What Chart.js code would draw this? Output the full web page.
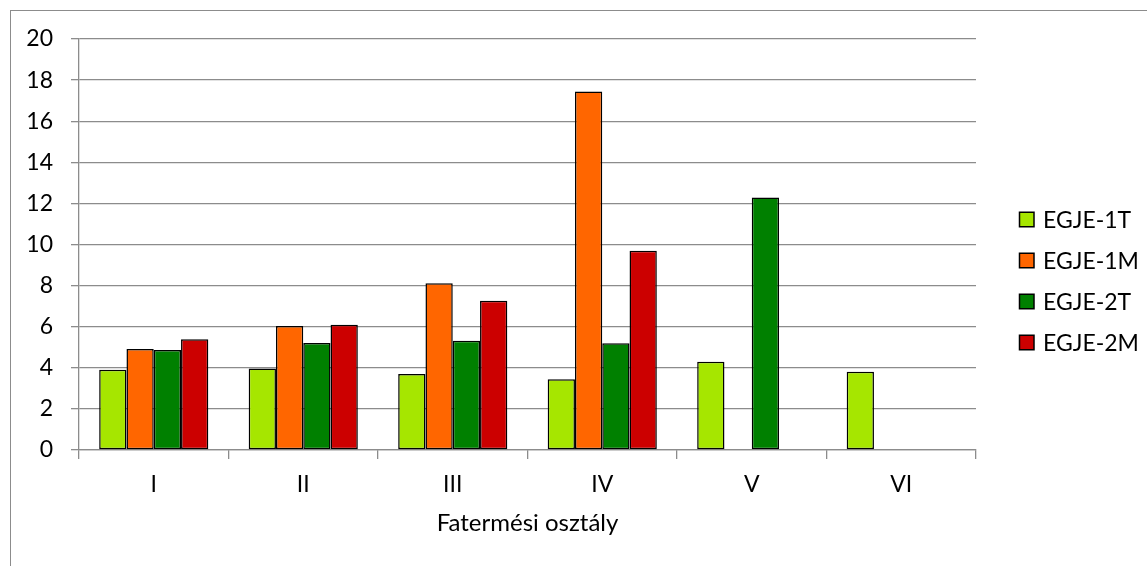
<!DOCTYPE html>
<html>
<head>
<meta charset="utf-8">
<script src="https://cdn.jsdelivr.net/npm/chart.js@4.4.1/dist/chart.umd.min.js"></script>
<style>
  html, body { margin: 0; padding: 0; background: #fff; overflow: hidden; }
  #wrap { position: relative; width: 1147px; height: 566px; }
  #frame { position: absolute; left: 10px; top: 10px; width: 1300px; height: 700px;
           border: 1.5px solid #8c8c8c; box-sizing: border-box; }
  #c { position: absolute; left: 0; top: 0; }
</style>
</head>
<body>
<div id="wrap">
  <div id="frame"></div>
  <canvas id="c" width="1147" height="566"></canvas>
</div>
<script>
// Categories (yield classes) and series values
const categories = ['I', 'II', 'III', 'IV', 'V', 'VI'];
const seriesNames = ['EGJE-1T', 'EGJE-1M', 'EGJE-2T', 'EGJE-2M'];
const egje1T = [3.90, 3.96, 3.70, 3.44, 4.29, 3.81];
const egje1M = [4.92, 6.04, 8.12, 17.45, null, null];
const egje2T = [4.87, 5.21, 5.32, 5.20, 12.29, null];
const egje2M = [5.39, 6.09, 7.26, 9.69, null, null];
const yTicks = [0, 2, 4, 6, 8, 10, 12, 14, 16, 18, 20];
const axisTitle = 'Fatermési osztály';

const colors = ['#a6e600', '#ff6600', '#008000', '#cc0000'];
const FONT = 'Lato, "Open Sans", sans-serif';
const FS = 23;

const seriesValues = [egje1T, egje1M, egje2T, egje2M];
const datasets = seriesNames.map((name, i) => ({
  label: name,
  data: seriesValues[i],
  backgroundColor: colors[i],
  borderColor: '#000',
  borderWidth: 1.5,
  borderSkipped: false,
  categoryPercentage: 0.73,
  barPercentage: 1.0
}));

// Legend on the right, drawn as a list of square swatches with labels
const sideLegend = {
  id: 'sideLegend',
  afterDraw(chart) {
    const ctx = chart.ctx;
    const x0 = 1019.5, y0 = 219.5, step = 41, box = 14.5;
    ctx.save();
    ctx.font = FS + 'px ' + FONT;
    ctx.textBaseline = 'middle';
    ctx.textAlign = 'left';
    chart.data.datasets.forEach((ds, i) => {
      const cy = y0 + i * step;
      ctx.fillStyle = ds.backgroundColor;
      ctx.fillRect(x0, cy - box / 2, box, box);
      ctx.strokeStyle = '#000';
      ctx.lineWidth = 1.5;
      ctx.strokeRect(x0, cy - box / 2, box, box);
      ctx.fillStyle = '#000';
      ctx.fillText(ds.label, x0 + 23.5, cy + 1);
    });
    ctx.restore();
  }
};

new Chart(document.getElementById('c'), {
  type: 'bar',
  data: { labels: categories, datasets },
  plugins: [sideLegend],
  options: {
    responsive: false,
    animation: false,
    devicePixelRatio: 1,
    layout: { padding: { top: 39, right: 171, left: 0, bottom: 0 } },
    plugins: { legend: { display: false }, tooltip: { enabled: false } },
    scales: {
      x: {
        grid: { display: true, drawOnChartArea: false, drawTicks: true, tickLength: 9,
                color: '#8c8c8c', lineWidth: 1.3, offset: true },
        border: { display: true, color: '#8c8c8c', width: 1.3 },
        ticks: { color: '#000', font: { family: FONT, size: FS }, padding: 12, maxRotation: 0 },
        title: { display: true, text: axisTitle, color: '#000',
                 font: { family: FONT, size: 24 }, padding: { top: 0, bottom: 28 } },
        afterFit(scale) { scale.height = 116; }
      },
      y: {
        min: 0, max: 20,
        afterBuildTicks(scale) { scale.ticks = yTicks.map(v => ({ value: v })); },
        grid: { color: '#8c8c8c', lineWidth: 1.3, tickLength: 8, drawTicks: true },
        border: { display: true, color: '#8c8c8c', width: 1.3 },
        ticks: { color: '#000', font: { family: FONT, size: FS }, padding: 18 },
        afterFit(scale) { scale.width = 79; }
      }
    }
  }
});
</script>
</body>
</html>
